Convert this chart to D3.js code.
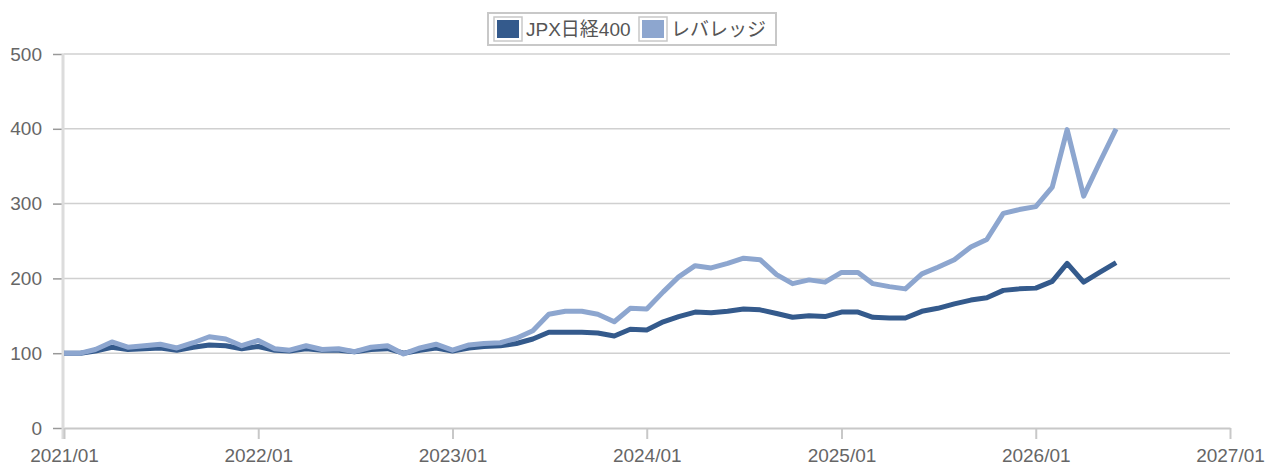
<!DOCTYPE html>
<meta charset="utf-8">
<script src="https://d3js.org/d3.v7.min.js"></script>
<style>
  body { margin: 0; background: #fff; }
  text { font-family: "Liberation Sans", Arial, "Noto Sans CJK JP", sans-serif; }
</style>
<div id="chart"></div>
<script>

// monthly points from 2021/01
var startMonth = "2021-01";
var seriesNames = ["JPX日経400", "レバレッジ"];
var seriesColors = ["#345a8c", "#8da6cf"];

var jpx400 = [100, 100, 103, 108, 105, 106, 107, 104, 108, 111, 110, 106,
              109, 104, 103, 106, 104, 104, 102, 105, 106, 100, 104, 107,
              103, 107, 109, 110, 113, 119, 128, 128, 128, 127, 123, 132,
              131, 142, 149, 155, 154, 156, 159, 158, 153, 148, 150, 149,
              155, 155, 148, 147, 147, 156, 160, 166, 171, 174, 184, 186,
              187, 196, 220, 195, 208, 221];

var leverage = [100, 100, 105, 115, 108, 110, 112, 107, 114, 122, 119, 110,
                117, 106, 104, 110, 105, 106, 102, 108, 110, 99, 107, 112,
                104, 111, 113, 114, 120, 130, 152, 156, 156, 152, 142, 160,
                159, 182, 202, 217, 214, 220, 227, 225, 205, 193, 198, 195,
                208, 208, 193, 189, 186, 206, 215, 225, 242, 252, 287, 292,
                296, 322, 399, 310, 355, 400];

var yTicks = [0, 100, 200, 300, 400, 500];
var xTicks = ["2021-01", "2022-01", "2023-01", "2024-01", "2025-01", "2026-01", "2027-01"];

var W = 1266, H = 467;
var margin = {top: 54, right: 36, bottom: 38, left: 64};

var parse = d3.timeParse("%Y-%m");
var t0 = parse(startMonth);
var dates = jpx400.map(function(d, i) { return d3.timeMonth.offset(t0, i); });

var svg = d3.select("#chart").append("svg")
  .attr("width", W)
  .attr("height", H);

var x = d3.scaleTime()
  .domain([parse(xTicks[0]), parse(xTicks[xTicks.length - 1])])
  .range([margin.left, W - margin.right]);

var y = d3.scaleLinear()
  .domain([0, 500])
  .range([H - margin.bottom - 1, margin.top]);

// grid lines
svg.append("g")
  .selectAll("line")
  .data(yTicks.slice(1))
  .enter().append("line")
    .attr("x1", margin.left)
    .attr("x2", W - margin.right)
    .attr("y1", function(d) { return y(d); })
    .attr("y2", function(d) { return y(d); })
    .attr("stroke", "#d0d0d0")
    .attr("stroke-width", 1.5);

// y axis
var yAxis = svg.append("g")
  .attr("transform", "translate(" + margin.left + ",0)")
  .call(d3.axisLeft(y).tickValues(yTicks).tickSize(11).tickPadding(11));
yAxis.select(".domain").remove();
yAxis.append("line")
  .attr("x1", -1).attr("x2", -1)
  .attr("y1", y(500)).attr("y2", y(0) + 11)
  .attr("stroke", "#dcdcdc").attr("stroke-width", 3);
yAxis.selectAll(".tick line").attr("stroke", "#999").attr("stroke-width", 1.5);
yAxis.selectAll(".tick text")
  .attr("fill", "#666")
  .style("font-size", "19px");

// x axis
var xAxis = svg.append("g")
  .attr("transform", "translate(0," + y(0) + ")")
  .call(d3.axisBottom(x)
    .tickValues(xTicks.map(parse))
    .tickFormat(d3.timeFormat("%Y/%m"))
    .tickSize(11)
    .tickPadding(10)
    .tickSizeOuter(0));
xAxis.select(".domain").attr("stroke", "#c8c8c8").attr("stroke-width", 2);
xAxis.selectAll(".tick line").attr("stroke", "#c8c8c8").attr("stroke-width", 2);
xAxis.selectAll(".tick text")
  .attr("fill", "#666")
  .style("font-size", "19px");

// lines
var line = d3.line()
  .x(function(d, i) { return x(dates[i]); })
  .y(function(d) { return y(d); });

[jpx400, leverage].forEach(function(s, k) {
  svg.append("path")
    .datum(s)
    .attr("fill", "none")
    .attr("stroke", seriesColors[k])
    .attr("stroke-width", 5)
    .attr("stroke-linejoin", "round")
    .attr("d", line);
});

// legend
var legend = svg.append("g");
legend.append("rect")
  .attr("x", 488).attr("y", 13)
  .attr("width", 288).attr("height", 32)
  .attr("fill", "#fff")
  .attr("stroke", "#c8c8c8")
  .attr("stroke-width", 2);

var legendX = [494, 639];
seriesNames.forEach(function(name, k) {
  var g = legend.append("g").attr("transform", "translate(" + legendX[k] + ",17)");
  g.append("rect")
    .attr("x", 0).attr("y", 0)
    .attr("width", 28).attr("height", 24)
    .attr("fill", "#fff")
    .attr("stroke", "#c8c8c8")
    .attr("stroke-width", 1.5);
  g.append("rect")
    .attr("x", 3).attr("y", 3)
    .attr("width", 22).attr("height", 18)
    .attr("fill", seriesColors[k]);
  g.append("text")
    .attr("x", 32).attr("y", 19)
    .attr("fill", "#555")
    .style("font-size", "19px")
    .text(name);
});

</script>
